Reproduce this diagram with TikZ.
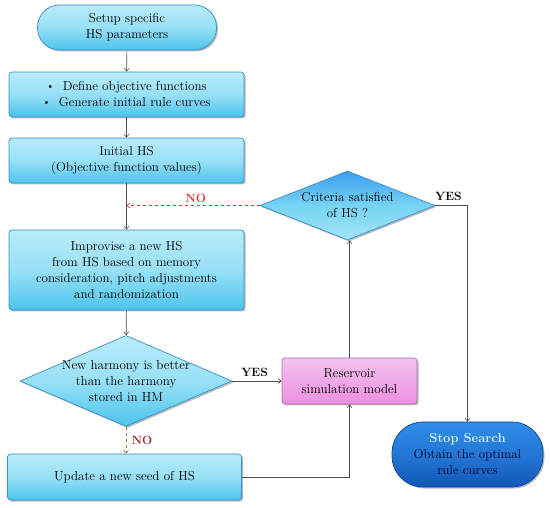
\documentclass[tikz,border=0pt]{standalone}
\usetikzlibrary{shapes.geometric,arrows.meta,shadows,calc}
\definecolor{cyanTop}{HTML}{B8ECFB}
\definecolor{cyanBot}{HTML}{4CC4EC}
\definecolor{cyanEdge}{HTML}{3A8FC8}
\definecolor{pinkTop}{HTML}{F3C2EE}
\definecolor{pinkBot}{HTML}{EE8FE0}
\definecolor{pinkEdge}{HTML}{B070B0}
\definecolor{stopTop}{HTML}{2F8CE8}
\definecolor{stopBot}{HTML}{1257B8}
\definecolor{lineC}{HTML}{505050}
\definecolor{noRed}{HTML}{E03030}
\definecolor{noDash}{HTML}{A07840}
\newcommand{\mybul}{\raisebox{0.25ex}{\scalebox{0.8}{\textbullet}}}
\begin{document}
\begin{tikzpicture}[x=1pt,y=-1pt,
  font=\fontsize{13}{16}\selectfont,
  base/.style={draw=cyanEdge, line width=0.7pt, align=center, inner sep=1pt,
    top color=cyanTop, bottom color=cyanBot, middle color=cyanTop!70!cyanBot,
    drop shadow={shadow xshift=1.5pt, shadow yshift=-1.5pt, fill=black!45, opacity=0.6}},
  procbox/.style={base, rectangle, rounded corners=3pt, minimum width=235pt},
  term/.style={base, rectangle, rounded corners=22pt},
  decis/.style={base, diamond, aspect=2.35, inner sep=-8pt},
  conn/.style={draw=lineC, line width=0.6pt, -{Straight Barb[length=3pt,width=5pt]}},
  lab/.style={font=\fontsize{12}{14}\selectfont\bfseries}
]
\useasboundingbox (0,0) rectangle (550,508);

\node[term, minimum width=179pt, minimum height=45pt] (start) at (127,27.5) {Setup specific\\HS parameters};
\node[procbox, minimum height=45pt] (def) at (126.5,94.5) {\mybul\ \ Define objective functions\\\mybul\ \ Generate initial rule curves};
\node[procbox, minimum height=45pt] (init) at (126.5,160.5) {Initial HS\\(Objective function values)};
\node[procbox, minimum height=80pt] (impr) at (126.5,270) {Improvise a new HS\\from HS based on memory\\consideration, pitch adjustments\\and randomization};
\node[decis, minimum width=212pt, minimum height=91pt] (d1) at (126,381) {New harmony is better\\than the harmony\\stored in HM};
\node[procbox, minimum width=234pt, minimum height=46pt] (upd) at (124.5,477) {Update a new seed of HS};
\node[base, rectangle, rounded corners=3pt, draw=pinkEdge, top color=pinkTop, bottom color=pinkBot, middle color=pinkTop!50!pinkBot,
  minimum width=135pt, minimum height=46pt] (res) at (349.5,381) {Reservoir\\simulation model};
\node[decis, top color=cyanBot!80!blue, bottom color=cyanTop!80!cyanBot, middle color=cyanBot!60!cyanTop,
  minimum width=175pt, minimum height=69pt] (d2) at (347.5,205.5) {Criteria satisfied\\of HS ?};
\node[base, rectangle, rounded corners=31pt, draw=stopBot!80!black, top color=stopTop, bottom color=stopBot, middle color=stopTop!60!stopBot,
  minimum width=151pt, minimum height=65pt] (stop) at (467.5,454.5)
  {{\bfseries\color{cyanTop!60!white}Stop Search}\\\color{black!85!blue}Obtain the optimal\\\color{black!85!blue}rule curves};

\coordinate (m) at (init.south |- d2.west);
\draw[conn] (start) -- (def);
\draw[conn] (def) -- (init);
\draw[conn] (init.south) -- (impr.north);
\draw[draw=noRed, dashed, line width=0.6pt, -{Straight Barb[length=3pt,width=5pt]}] (d2.west) -- (m)
  node[pos=0.48, above=-1pt, text=noRed, lab] {NO};
\draw[conn] (impr) -- (d1);
\draw[conn] (d1.east) -- (res.west) node[pos=0.45, above=1pt, lab] {YES};
\draw[draw=noDash, dashed, line width=0.6pt, -{Straight Barb[length=3pt,width=5pt]}] (d1.south) -- (d1.south |- upd.north)
  node[midway, right=2pt, text=noRed!70!black, lab] {NO};
\draw[conn] (upd.east) -| (res.south);
\draw[conn] (res.north) -- (res.north |- d2.south);
\draw[conn] (d2.east) -| (stop.north);
\node[lab, anchor=south] (yes2) at ($(d2.east)+(13,-1)$) {YES};
\end{tikzpicture}
\end{document}
